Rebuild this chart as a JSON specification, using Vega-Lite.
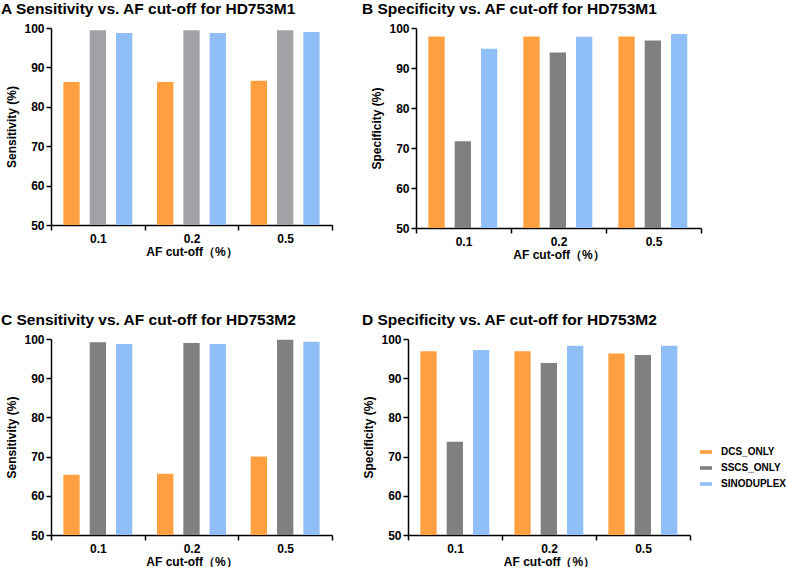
{
  "$schema": "https://vega.github.io/schema/vega-lite/v6.json",
  "padding": {"left": 1, "top": 1, "right": 0, "bottom": 0},
  "datasets": {
    "A": [
      {"cutoff": "0.1", "method": "DCS_ONLY", "value": 86.3},
      {"cutoff": "0.1", "method": "SSCS_ONLY", "value": 99.4},
      {"cutoff": "0.1", "method": "SINODUPLEX", "value": 98.7},
      {"cutoff": "0.2", "method": "DCS_ONLY", "value": 86.3},
      {"cutoff": "0.2", "method": "SSCS_ONLY", "value": 99.4},
      {"cutoff": "0.2", "method": "SINODUPLEX", "value": 98.7},
      {"cutoff": "0.5", "method": "DCS_ONLY", "value": 86.6},
      {"cutoff": "0.5", "method": "SSCS_ONLY", "value": 99.4},
      {"cutoff": "0.5", "method": "SINODUPLEX", "value": 99.0}
    ],
    "B": [
      {"cutoff": "0.1", "method": "DCS_ONLY", "value": 97.9},
      {"cutoff": "0.1", "method": "SSCS_ONLY", "value": 71.7},
      {"cutoff": "0.1", "method": "SINODUPLEX", "value": 94.8},
      {"cutoff": "0.2", "method": "DCS_ONLY", "value": 97.9},
      {"cutoff": "0.2", "method": "SSCS_ONLY", "value": 93.9},
      {"cutoff": "0.2", "method": "SINODUPLEX", "value": 97.8},
      {"cutoff": "0.5", "method": "DCS_ONLY", "value": 97.9},
      {"cutoff": "0.5", "method": "SSCS_ONLY", "value": 96.9},
      {"cutoff": "0.5", "method": "SINODUPLEX", "value": 98.5}
    ],
    "C": [
      {"cutoff": "0.1", "method": "DCS_ONLY", "value": 65.4},
      {"cutoff": "0.1", "method": "SSCS_ONLY", "value": 99.2},
      {"cutoff": "0.1", "method": "SINODUPLEX", "value": 98.7},
      {"cutoff": "0.2", "method": "DCS_ONLY", "value": 65.6},
      {"cutoff": "0.2", "method": "SSCS_ONLY", "value": 99.0},
      {"cutoff": "0.2", "method": "SINODUPLEX", "value": 98.7},
      {"cutoff": "0.5", "method": "DCS_ONLY", "value": 70.0},
      {"cutoff": "0.5", "method": "SSCS_ONLY", "value": 99.8},
      {"cutoff": "0.5", "method": "SINODUPLEX", "value": 99.3}
    ],
    "D": [
      {"cutoff": "0.1", "method": "DCS_ONLY", "value": 96.9},
      {"cutoff": "0.1", "method": "SSCS_ONLY", "value": 73.8},
      {"cutoff": "0.1", "method": "SINODUPLEX", "value": 97.2},
      {"cutoff": "0.2", "method": "DCS_ONLY", "value": 96.9},
      {"cutoff": "0.2", "method": "SSCS_ONLY", "value": 93.9},
      {"cutoff": "0.2", "method": "SINODUPLEX", "value": 98.3},
      {"cutoff": "0.5", "method": "DCS_ONLY", "value": 96.3},
      {"cutoff": "0.5", "method": "SSCS_ONLY", "value": 95.9},
      {"cutoff": "0.5", "method": "SINODUPLEX", "value": 98.3}
    ]
  },
  "vconcat": [
    {
      "hconcat": [
        {
          "data": {"name": "A"},
          "width": 281, "height": 197,
          "title": {"text": "A  Sensitivity vs. AF cut-off for HD753M1", "dx": -50},
          "mark": {"type": "bar"},
          "encoding": {
            "x": {"field": "cutoff", "type": "nominal", "title": "AF cut-off（%）", "scale": {"paddingInner": 0, "paddingOuter": 0}},
            "xOffset": {"field": "method", "type": "nominal", "sort": ["DCS_ONLY", "SSCS_ONLY", "SINODUPLEX"], "scale": {"paddingInner": 0.38, "paddingOuter": 0.47}},
            "y": {"field": "value", "type": "quantitative", "title": "Sensitivity (%)", "scale": {"domain": [50, 100], "zero": false, "nice": false}, "axis": {"values": [50, 60, 70, 80, 90, 100]}},
            "y2": {"datum": 50},
            "color": {"field": "method", "type": "nominal", "legend": null, "scale": {"domain": ["DCS_ONLY", "SSCS_ONLY", "SINODUPLEX"], "range": ["#FF9F3F", "#A2A2A6", "#90BFF8"]}}
          }
        },
        {
          "data": {"name": "B"},
          "width": 285, "height": 200,
          "title": {"text": "B  Specificity vs. AF cut-off for HD753M1", "dx": -54},
          "mark": {"type": "bar"},
          "encoding": {
            "x": {"field": "cutoff", "type": "nominal", "title": "AF cut-off（%）", "scale": {"paddingInner": 0, "paddingOuter": 0}},
            "xOffset": {"field": "method", "type": "nominal", "sort": ["DCS_ONLY", "SSCS_ONLY", "SINODUPLEX"], "scale": {"paddingInner": 0.38, "paddingOuter": 0.47}},
            "y": {"field": "value", "type": "quantitative", "title": "Specificity (%)", "scale": {"domain": [50, 100], "zero": false, "nice": false}, "axis": {"values": [50, 60, 70, 80, 90, 100]}},
            "y2": {"datum": 50},
            "color": {"field": "method", "type": "nominal", "legend": null, "scale": {"domain": ["DCS_ONLY", "SSCS_ONLY", "SINODUPLEX"], "range": ["#FF9F3F", "#808080", "#90BFF8"]}}
          }
        }
      ],
      "spacing": 29,
      "resolve": {"scale": {"color": "independent"}}
    },
    {
      "hconcat": [
        {
          "data": {"name": "C"},
          "width": 281, "height": 196,
          "title": {"text": "C  Sensitivity vs. AF cut-off for HD753M2", "dx": -50},
          "mark": {"type": "bar"},
          "encoding": {
            "x": {"field": "cutoff", "type": "nominal", "title": "AF cut-off（%）", "scale": {"paddingInner": 0, "paddingOuter": 0}},
            "xOffset": {"field": "method", "type": "nominal", "sort": ["DCS_ONLY", "SSCS_ONLY", "SINODUPLEX"], "scale": {"paddingInner": 0.38, "paddingOuter": 0.47}},
            "y": {"field": "value", "type": "quantitative", "title": "Sensitivity (%)", "scale": {"domain": [50, 100], "zero": false, "nice": false}, "axis": {"values": [50, 60, 70, 80, 90, 100]}},
            "y2": {"datum": 50},
            "color": {"field": "method", "type": "nominal", "legend": null, "scale": {"domain": ["DCS_ONLY", "SSCS_ONLY", "SINODUPLEX"], "range": ["#FF9F3F", "#808080", "#90BFF8"]}}
          }
        },
        {
          "data": {"name": "D"},
          "width": 282, "height": 196,
          "title": {"text": "D Specificity vs. AF cut-off for HD753M2", "dx": -46},
          "mark": {"type": "bar"},
          "encoding": {
            "x": {"field": "cutoff", "type": "nominal", "title": "AF cut-off（%）", "scale": {"paddingInner": 0, "paddingOuter": 0}},
            "xOffset": {"field": "method", "type": "nominal", "sort": ["DCS_ONLY", "SSCS_ONLY", "SINODUPLEX"], "scale": {"paddingInner": 0.38, "paddingOuter": 0.47}},
            "y": {"field": "value", "type": "quantitative", "title": "Specificity (%)", "scale": {"domain": [50, 100], "zero": false, "nice": false}, "axis": {"values": [50, 60, 70, 80, 90, 100]}},
            "y2": {"datum": 50},
            "color": {
              "field": "method", "type": "nominal",
              "scale": {"domain": ["DCS_ONLY", "SSCS_ONLY", "SINODUPLEX"], "range": ["#FF9F3F", "#808080", "#90BFF8"]},
              "legend": {
                "title": null, "orient": "none", "legendX": 292, "legendY": 107,
                "padding": 0,
                "symbolType": "M-1,-0.3H1V0.3H-1Z", "symbolSize": 144, "symbolStrokeWidth": 0, "symbolOpacity": 1,
                "labelFont": "Liberation Sans", "labelFontWeight": "bold", "labelFontSize": 10, "labelColor": "black",
                "rowPadding": 5, "labelOffset": 9, "labelLimit": 200
              }
            }
          }
        }
      ],
      "spacing": 29,
      "resolve": {"scale": {"color": "independent"}}
    }
  ],
  "spacing": 52,
  "resolve": {"scale": {"color": "independent"}},
  "config": {
    "font": "Liberation Sans",
    "view": {"stroke": null},
    "bar": {"stroke": null},
    "axis": {
      "grid": false,
      "domainColor": "black", "domainWidth": 1.5,
      "tickColor": "black", "tickWidth": 1.5, "tickSize": 5,
      "labelFont": "Liberation Sans", "labelFontWeight": "bold", "labelFontSize": 12, "labelColor": "black",
      "titleFont": "Liberation Sans", "titleFontWeight": "bold", "titleFontSize": 12, "titleColor": "black"
    },
    "axisX": {"labelAngle": 0, "tickBand": "extent", "labelPadding": 3, "titlePadding": 2},
    "axisY": {"labelPadding": 2, "titlePadding": 5},
    "title": {"font": "Liberation Sans", "fontSize": 15.5, "fontWeight": "bold", "color": "black", "anchor": "start", "frame": "group", "offset": 5}
  }
}
